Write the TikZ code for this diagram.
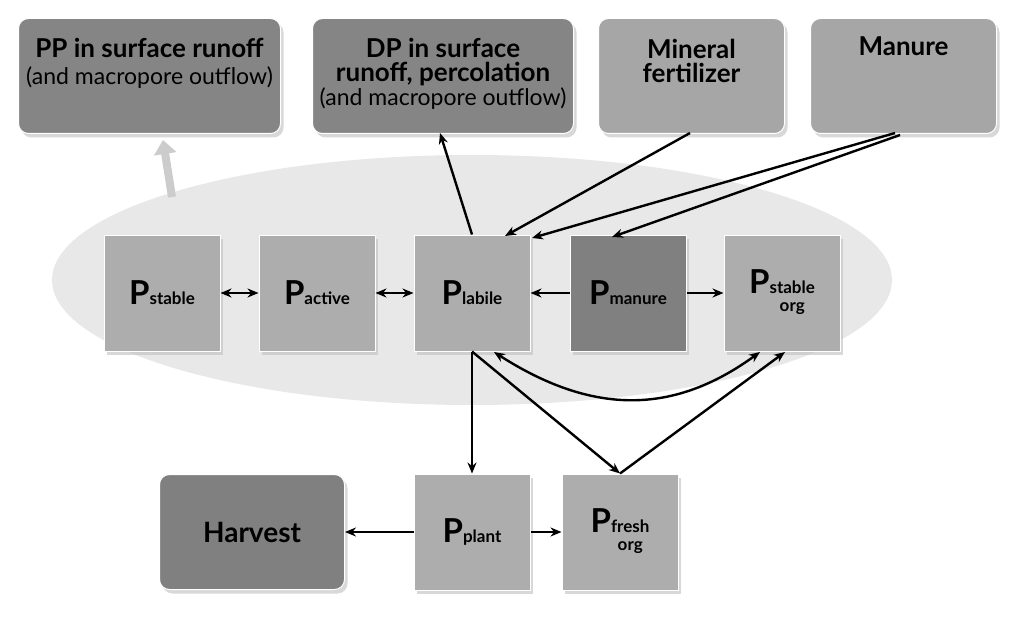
\documentclass[tikz,border=0pt]{standalone}
\usepackage{fontspec}
\setmainfont{Lato}
\usetikzlibrary{shadows,arrows.meta}
\begin{document}
\begin{tikzpicture}[x=1pt,y=-1pt,
  sh/.style={drop shadow={shadow xshift=3pt,shadow yshift=-4pt,fill=black!25,opacity=0.6}},
  topbox/.style={sh,draw=white,line width=1pt,rounded corners=10pt,align=center,font=\bfseries\fontsize{26}{29}\selectfont},
  sq/.style={sh,draw=white,line width=1pt,fill=black!32,minimum width=116pt,minimum height=116pt,inner sep=0pt},
  ar/.style={-{Stealth[length=11pt,width=9pt]},line width=2.4pt},
  dar/.style={{Stealth[length=11pt,width=9pt]}-{Stealth[length=11pt,width=9pt]},line width=2.4pt}]
\useasboundingbox[fill=white] (0,0) rectangle (1024,620);
\newcommand{\Pl}[1]{{\fontsize{33}{36}\selectfont\bfseries P}{\fontsize{17}{18}\selectfont\bfseries #1}}
\newcommand{\Pt}[2]{{\fontsize{33}{36}\selectfont\bfseries P}{\fontsize{17}{18}\selectfont\bfseries\begin{tabular}[t]{@{}c@{}}#1\\[0pt]#2\end{tabular}}}
\fill[black!9] (472,280) ellipse [x radius=420pt,y radius=125pt];
\draw[-{Triangle[length=14pt,width=22pt]},line width=8pt,black!20] (172,197) -- (163,140);
\node[topbox,fill=black!48,minimum width=262pt,minimum height=115pt,anchor=north west,text depth=30pt] (pp) at (18,18) {PP in surface runoff\\[-2pt]{\mdseries\fontsize{23}{26}\selectfont (and macropore outflow)}};
\node[topbox,fill=black!48,minimum width=261pt,minimum height=115pt,anchor=north west,text depth=8pt] (dp) at (312,18) {DP in surface\\[-5pt]runoff, percolation\\[-5pt]{\mdseries\fontsize{23}{26}\selectfont (and macropore outflow)}};
\node[topbox,fill=black!35,minimum width=186pt,minimum height=115pt,anchor=north west,text depth=30pt] (min) at (598,18) {Mineral\\[-5pt]fertilizer};
\node[topbox,fill=black!35,minimum width=186pt,minimum height=115pt,anchor=north west,text depth=60pt] (man) at (810,18) {Manure};
\node[sq] (ps) at (162,293) {\Pl{stable}};
\node[sq] (pa) at (317,293) {\Pl{active}};
\node[sq] (pl) at (472,293) {\Pl{labile}};
\node[sq,fill=black!50] (pm) at (628,293) {\Pl{manure}};
\node[sq] (po) at (782,293) {\raisebox{8pt}{\Pt{stable}{org}}};
\node[sq,fill=black!50,rounded corners=10pt,minimum width=185pt,minimum height=115pt] (hv) at (252,532) {\fontsize{28}{30}\selectfont\bfseries Harvest};
\node[sq] (pp2) at (472,532) {\Pl{plant}};
\node[sq] (pf) at (620,532) {\raisebox{8pt}{\Pt{fresh}{org}}};
\coordinate (mnA) at (895,133); \coordinate (mnB) at (900,135);
\draw[dar] (ps) -- (pa);
\draw[dar] (pa) -- (pl);
\draw[ar] (pm) -- (pl);
\draw[ar] (pm) -- (po);
\draw[ar] (pl.north) -- (440,133);
\draw[ar] (690,133) -- (505,236);
\draw[ar] (mnA) -- (532,238);
\draw[ar] (mnB) -- (612,237);
\draw[ar] (pl.south) -- (pp2.north);
\draw[ar] (pl.south) -- (pf.north);
\draw[ar] (pf.north) -- (785,352);
\draw[dar] (494,352) .. controls (600,420) and (680,410) .. (760,352);
\draw[ar] (pp2) -- (hv);
\draw[ar] (pp2) -- (pf);
\end{tikzpicture}
\end{document}
